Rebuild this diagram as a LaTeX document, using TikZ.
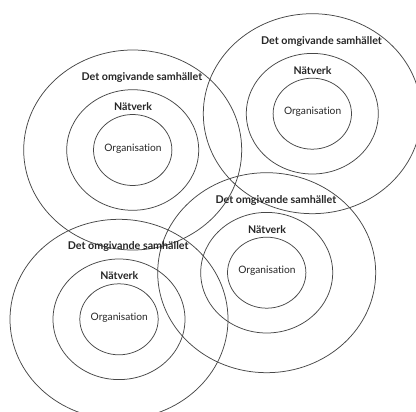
\documentclass[tikz,border=0pt]{standalone}
\usepackage{fontspec}
\setmainfont{Lato}[Ligatures={NoCommon}]
\begin{document}
\begin{tikzpicture}[x=1pt,y=-1pt,
  ring/.style={draw=black!72, line width=0.75pt},
  outerlbl/.style={font=\bfseries\fontsize{10.7}{12}\selectfont, inner sep=0pt, text=black!85},
  midlbl/.style={font=\bfseries\fontsize{10.6}{12}\selectfont, inner sep=0pt, text=black!85},
  innerlbl/.style={font=\fontsize{10.2}{12}\selectfont, inner sep=0pt, text=black!85}]
\useasboundingbox (0,0) rectangle (416,412);
\clip (0,0) rectangle (416,412);
\fill[white] (0,0) rectangle (416,412);
\coordinate (c1) at (132.7,150);
\coordinate (c2) at (312.3,113.7);
\coordinate (c3) at (266.7,272.7);
\coordinate (c4) at (119,319.3);
\foreach \c in {c1,c2,c3,c4}{
  \draw[ring] (\c) ellipse [x radius=39.2, y radius=35.5];
  \draw[ring] (\c) ellipse [x radius=66, y radius=60.3];
  \draw[ring] (\c) ellipse [x radius=109, y radius=100];
}
\node[outerlbl] (o1) at ([shift={(9.2,-72.5)}]c1) {Det omgivande samhället};
\node[outerlbl] (o2) at ([shift={(9.2,-72.5)}]c2) {Det omgivande samhället};
\node[outerlbl] (o3) at ([shift={(9.2,-72.5)}]c3) {Det omgivande samhället};
\node[outerlbl] (o4) at ([shift={(9.2,-72.5)}]c4) {Det omgivande samhället};
\node[midlbl] (m1) at ([shift={(0.3,-43.5)}]c1) {Nätverk};
\node[midlbl] (m2) at ([shift={(0.3,-43.5)}]c2) {Nätverk};
\node[midlbl] (m3) at ([shift={(0.3,-43.5)}]c3) {Nätverk};
\node[midlbl] (m4) at ([shift={(0.3,-43.5)}]c4) {Nätverk};
\node[innerlbl] (i1) at ([shift={(0.3,-1.7)}]c1) {Organisation};
\node[innerlbl] (i2) at ([shift={(0.3,-1.7)}]c2) {Organisation};
\node[innerlbl] (i3) at ([shift={(0.3,-1.7)}]c3) {Organisation};
\node[innerlbl] (i4) at ([shift={(0.3,-1.7)}]c4) {Organisation};
\end{tikzpicture}
\end{document}
